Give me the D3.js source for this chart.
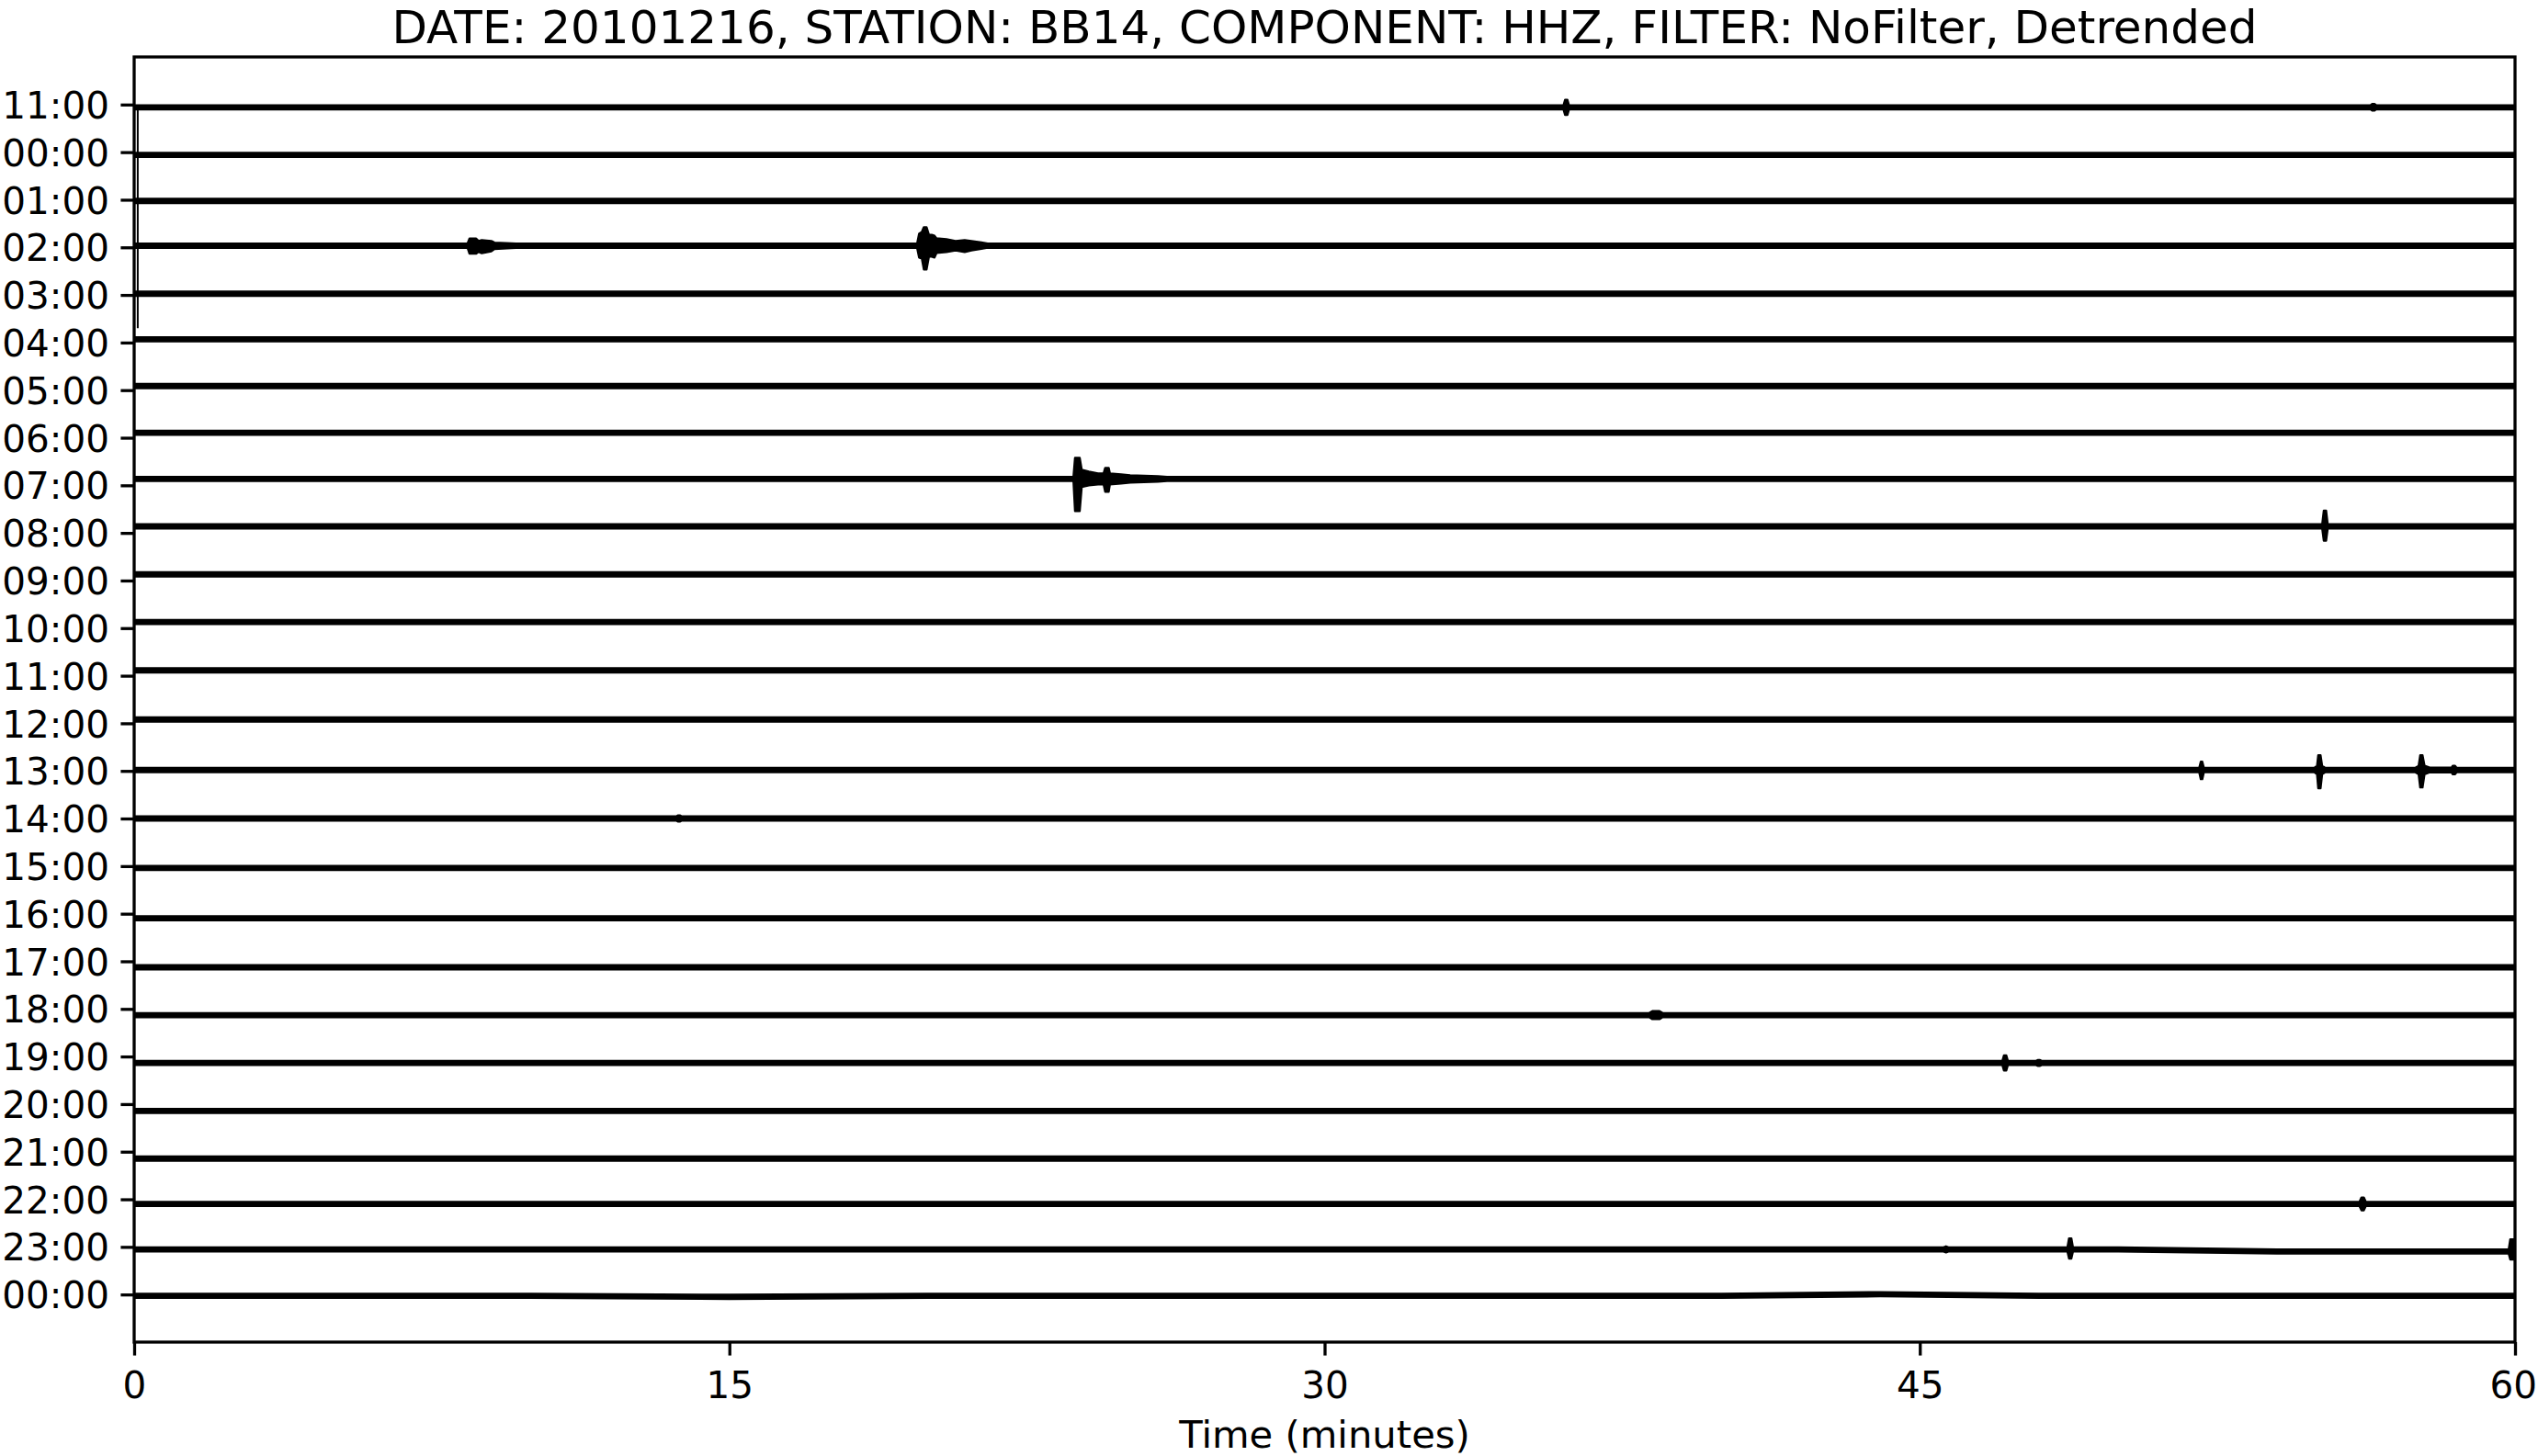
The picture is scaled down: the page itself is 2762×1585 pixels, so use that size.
<!DOCTYPE html>
<html>
<head>
<meta charset="utf-8">
<script src="https://cdn.jsdelivr.net/npm/d3@7"></script>
<style>
  html, body { margin: 0; padding: 0; background: #fff; }
  svg { display: block; }
  text { font-family: "DejaVu Sans", sans-serif; fill: #000; }
</style>
</head>
<body>
<svg id="chart" width="2762" height="1585"></svg>
<script>
// ---------------- data ----------------
const chartTitle = "DATE: 20101216, STATION: BB14, COMPONENT: HHZ, FILTER: NoFilter, Detrended";
const xLabel = "Time (minutes)";
const hourLabels = ["11:00","00:00","01:00","02:00","03:00","04:00","05:00","06:00","07:00","08:00",
                    "09:00","10:00","11:00","12:00","13:00","14:00","15:00","16:00","17:00","18:00",
                    "19:00","20:00","21:00","22:00","23:00","00:00"];
const minuteTicks = [0, 15, 30, 45, 60];
// mean level of each trace relative to its tick (trace units, positive = downward on screen)
const traceMeans = [0.058, 0.058, 0.025, -0.035, -0.025, -0.068, -0.087, -0.104, -0.135, -0.137,
                    -0.129, -0.129, -0.112, -0.081, -0.019, 0.0, 0.039, 0.097, 0.126, 0.131,
                    0.135, 0.145, 0.145, 0.097, 0.052, 0.029];
// background noise half-amplitude (trace units)
const baseNoise = 0.045;
// envelope vertices: [row, minute, upward extent, downward extent] (trace units)
const envelopeVertices = [
  // 11:00 (first row)
  [0, 36.02, 0.045, 0.045], [0, 36.06, 0.16, 0.16], [0, 36.12, 0.16, 0.16], [0, 36.16, 0.045, 0.045],
  [0, 56.36, 0.045, 0.045], [0, 56.40, 0.07, 0.07], [0, 56.46, 0.07, 0.07], [0, 56.50, 0.045, 0.045],
  // 02:00
  [3, 8.40, 0.045, 0.045], [3, 8.45, 0.15, 0.17], [3, 8.62, 0.15, 0.17], [3, 8.68, 0.10, 0.13],
  [3, 8.76, 0.12, 0.16], [3, 9.00, 0.10, 0.12], [3, 9.08, 0.065, 0.07], [3, 9.50, 0.05, 0.05],
  [3, 9.62, 0.045, 0.045],
  [3, 19.73, 0.045, 0.045], [3, 19.78, 0.25, 0.25], [3, 19.85, 0.29, 0.27], [3, 19.90, 0.39, 0.50],
  [3, 19.97, 0.39, 0.50], [3, 20.03, 0.23, 0.23], [3, 20.10, 0.23, 0.23], [3, 20.17, 0.21, 0.25],
  [3, 20.22, 0.155, 0.155], [3, 20.47, 0.135, 0.135], [3, 20.70, 0.10, 0.10], [3, 20.93, 0.12, 0.135],
  [3, 21.10, 0.10, 0.10], [3, 21.35, 0.068, 0.068], [3, 21.51, 0.045, 0.045],
  // 07:00
  [8, 23.67, 0.045, 0.045], [8, 23.71, 0.444, 0.676], [8, 23.83, 0.444, 0.676], [8, 23.88, 0.193, 0.17],
  [8, 24.06, 0.155, 0.135], [8, 24.29, 0.116, 0.116], [8, 24.43, 0.116, 0.116], [8, 24.47, 0.232, 0.27],
  [8, 24.56, 0.232, 0.27], [8, 24.59, 0.116, 0.116], [8, 24.87, 0.097, 0.097], [8, 25.10, 0.077, 0.077],
  [8, 25.80, 0.058, 0.058], [8, 26.03, 0.045, 0.045],
  // 08:00
  [9, 55.14, 0.045, 0.045], [9, 55.18, 0.33, 0.30], [9, 55.24, 0.33, 0.30], [9, 55.28, 0.045, 0.045],
  // 13:00
  [14, 52.04, 0.045, 0.045], [14, 52.08, 0.174, 0.193], [14, 52.12, 0.174, 0.193], [14, 52.16, 0.045, 0.045],
  [14, 54.94, 0.045, 0.045], [14, 55.01, 0.09, 0.09], [14, 55.04, 0.31, 0.386], [14, 55.10, 0.31, 0.386],
  [14, 55.14, 0.09, 0.09], [14, 55.22, 0.045, 0.045],
  [14, 57.48, 0.045, 0.045], [14, 57.57, 0.09, 0.09], [14, 57.61, 0.31, 0.367], [14, 57.67, 0.31, 0.367],
  [14, 57.72, 0.09, 0.09], [14, 57.85, 0.05, 0.05], [14, 58.40, 0.05, 0.05], [14, 58.43, 0.09, 0.09],
  [14, 58.49, 0.09, 0.09], [14, 58.53, 0.045, 0.045],
  // 14:00
  [15, 13.66, 0.045, 0.045], [15, 13.70, 0.065, 0.065], [15, 13.76, 0.065, 0.065], [15, 13.80, 0.045, 0.045],
  // 18:00
  [19, 38.18, 0.045, 0.045], [19, 38.26, 0.085, 0.085], [19, 38.44, 0.085, 0.085], [19, 38.52, 0.045, 0.045],
  // 19:00
  [20, 47.08, 0.045, 0.045], [20, 47.12, 0.16, 0.16], [20, 47.18, 0.16, 0.16], [20, 47.22, 0.045, 0.045],
  [20, 47.93, 0.045, 0.045], [20, 47.97, 0.062, 0.062], [20, 48.03, 0.062, 0.062], [20, 48.07, 0.045, 0.045],
  // 22:00
  [23, 56.08, 0.045, 0.045], [23, 56.13, 0.135, 0.135], [23, 56.19, 0.135, 0.135], [23, 56.24, 0.045, 0.045],
  // 23:00
  [24, 45.60, 0.045, 0.045], [24, 45.66, 0.065, 0.065], [24, 45.72, 0.045, 0.045],
  [24, 48.72, 0.045, 0.045], [24, 48.76, 0.232, 0.193], [24, 48.82, 0.232, 0.193], [24, 48.86, 0.045, 0.045],
  [24, 50.00, 0.045, 0.045], [24, 54.00, 0.0, 0.09], [24, 59.84, 0.0, 0.09],
  [24, 59.88, 0.213, 0.213], [24, 60.00, 0.213, 0.213],
  // 00:00 (last row)
  [25, 10.0, 0.045, 0.045], [25, 15.0, 0.025, 0.065], [25, 20.0, 0.045, 0.045],
  [25, 40.0, 0.045, 0.045], [25, 44.0, 0.08, 0.01], [25, 48.0, 0.045, 0.045]
];
// glitch at the first sample: [row, minute, excursion (trace units, downward)]
const glitches = [[0, 0.09, 4.64]];

// ---------------- layout ----------------
const W = 2762, H = 1585;
const margin = { left: 146, right: 25, top: 62, bottom: 124 };
const plotW = W - margin.left - margin.right;
const plotH = H - margin.top - margin.bottom;
const fontTick = 41.7, fontXTick = 40.5, fontYTick = 40.5, fontTitle = 50;
const tickLen = 14.6, tickPad = 14.6, yTickPad = 12.4, spineW = 3.3;

const svg = d3.select("#chart");
svg.append("rect").attr("width", W).attr("height", H).attr("fill", "#fff");

const x = d3.scaleLinear().domain([0, 60]).range([margin.left, margin.left + plotW]);
const y = d3.scaleLinear().domain([-1, 26]).range([margin.top, margin.top + plotH]);

svg.append("defs").append("clipPath").attr("id", "plotclip")
  .append("rect").attr("x", margin.left).attr("y", margin.top).attr("width", plotW).attr("height", plotH);

const g = svg.append("g").attr("clip-path", "url(#plotclip)");

// traces
hourLabels.forEach((lab, row) => {
  const mean = traceMeans[row];
  let pts = envelopeVertices.filter(v => v[0] === row).map(v => [v[1], v[2], v[3]]);
  pts.sort((a, b) => a[0] - b[0]);
  if (!pts.length || pts[0][0] > 0) pts.unshift([0, baseNoise, baseNoise]);
  if (pts[pts.length - 1][0] < 60) pts.push([60, baseNoise, baseNoise]);
  const area = d3.area()
    .x(d => x(d[0]))
    .y0(d => y(row + mean + d[2]))
    .y1(d => y(row + mean - d[1]));
  g.append("path")
    .attr("d", area(pts))
    .attr("fill", "#000")
    .attr("stroke", "#000")
    .attr("stroke-width", 2.2)
    .attr("stroke-linejoin", "round");
});

// glitches
glitches.forEach(([row, m, v]) => {
  const mean = traceMeans[row];
  g.append("path")
    .attr("d", d3.line()([[x(m), y(row + mean)], [x(m), y(row + mean + v)]]))
    .attr("stroke", "#000").attr("stroke-width", 2).attr("fill", "none");
});

// axes
const yAxis = d3.axisLeft(y)
  .tickValues(d3.range(hourLabels.length))
  .tickFormat(i => hourLabels[i])
  .tickSize(tickLen).tickPadding(yTickPad);
const xAxis = d3.axisBottom(x)
  .tickValues(minuteTicks)
  .tickFormat(d3.format("d"))
  .tickSize(tickLen).tickPadding(tickPad);

const gy = svg.append("g").attr("transform", `translate(${margin.left},0)`).call(yAxis);
const gx = svg.append("g").attr("transform", `translate(0,${margin.top + plotH})`).call(xAxis);
[gx, gy].forEach(a => {
  a.select(".domain").remove();
  a.selectAll(".tick line").attr("stroke", "#000").attr("stroke-width", spineW);
  a.selectAll(".tick text").attr("font-family", "DejaVu Sans").attr("fill", "#000");
});
gy.selectAll(".tick text").attr("font-size", fontYTick).attr("dy", "0.36em");
gx.selectAll(".tick text").attr("font-size", fontXTick).attr("dy", null)
  .attr("y", 1522 - (margin.top + plotH));
// keep the last x tick label inside the picture
gx.selectAll(".tick").each(function () {
  const t = d3.select(this).select("text");
  const bb = this.getBBox();
  const tr = this.transform.baseVal.consolidate();
  const tx = tr ? tr.matrix.e : 0;
  const tb = t.node().getBBox();
  const overflow = tx + tb.x + tb.width - (W - 1);
  if (overflow > 0) t.attr("dx", -overflow);
});

// frame
svg.append("rect")
  .attr("x", margin.left).attr("y", margin.top)
  .attr("width", plotW).attr("height", plotH)
  .attr("fill", "none").attr("stroke", "#000").attr("stroke-width", spineW);

// title & labels
svg.append("text")
  .attr("x", margin.left + plotW / 2).attr("y", 47)
  .attr("text-anchor", "middle").attr("font-size", fontTitle)
  .text(chartTitle);
svg.append("text")
  .attr("x", margin.left + plotW / 2).attr("y", 1576)
  .attr("text-anchor", "middle").attr("font-size", fontTick)
  .text(xLabel);
</script>
</body>
</html>
